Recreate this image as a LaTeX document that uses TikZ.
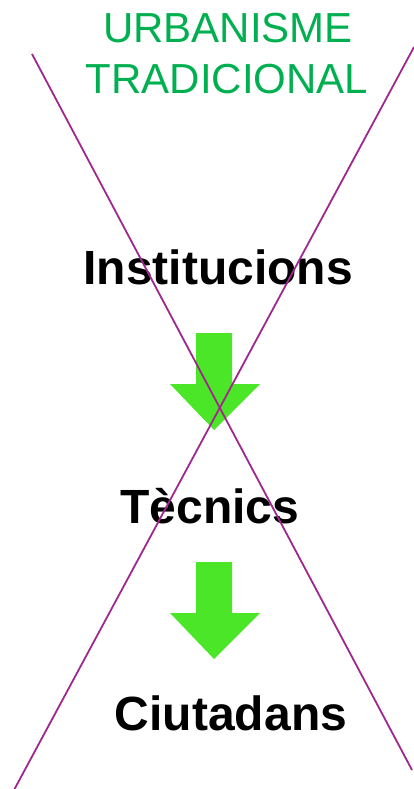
\documentclass[tikz,border=0pt]{standalone}
\usepackage{fontspec}
\setmainfont{Liberation Sans}
\usetikzlibrary{calc}
\definecolor{titlegreen}{RGB}{0,176,80}
\definecolor{arrowgreen}{RGB}{76,230,40}
\definecolor{crossline}{RGB}{160,40,140}

\begin{document}
\begin{tikzpicture}[
	x=1pt, y=-1pt,
	title/.style={text=titlegreen, font=\fontsize{42}{44}\selectfont, inner sep=0pt, anchor=base},
	actor/.style={font=\fontsize{48}{50}\selectfont\bfseries, inner sep=0pt, anchor=base}]

	% Syntax: (top middle of shaft)
	\def\greenarrow(#1)%
		{\fill[arrowgreen] ($(#1)+(-18,0)$) -- ++(36,0) -- ++(0,51) -- ++(28,0)
			-- ($(#1)+(0,97)$) -- ($(#1)+(-44,51)$) -- ++(26,0) -- cycle; }

	\useasboundingbox (0,0) rectangle (413,789);

	\node[title] (urb) at (228,43) {URBANISME};
	\node[title] (trad) at (227,94) {TRADICIONAL};

	\node[actor] (inst) at (218,284) {Institucions};
	\node[actor] (tec) at (210,523) {Tècnics};
	\node[actor] (ciu) at (231,730) {Ciutadans};

	\coordinate (A1) at (214,333);
	\coordinate (A2) at (214,562);
	\greenarrow(A1)
	\greenarrow(A2)

	% the cross over everything
	\coordinate (TL) at (32,54);
	\coordinate (BR) at (412,770);
	\coordinate (TR) at (414,47);
	\coordinate (BL) at (14,790);
	\draw[crossline, line width=1.8pt] (TL) -- (BR);
	\draw[crossline, line width=1.8pt] (TR) -- (BL);

\end{tikzpicture}
\end{document}
